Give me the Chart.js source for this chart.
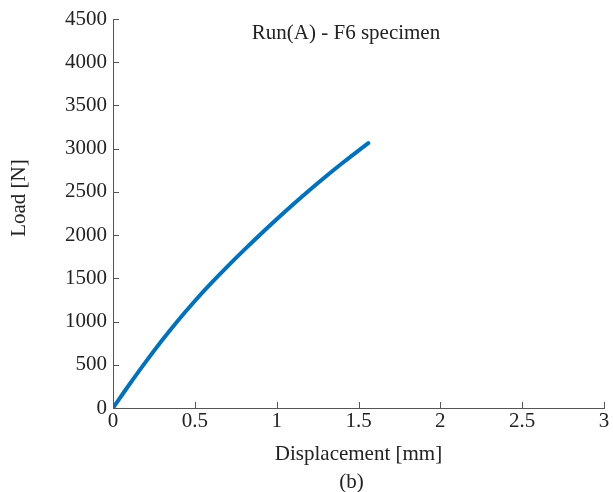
<!DOCTYPE html>
<html>
<head>
<meta charset="utf-8">
<script src="https://cdn.jsdelivr.net/npm/chart.js@4/dist/chart.umd.min.js"></script>
<style>
  html, body { margin: 0; padding: 0; background: #fff; }
  #wrap { width: 613px; height: 492px; }
</style>
</head>
<body>
<div id="wrap"><canvas id="chart"></canvas></div>
<script>
// displacement [mm] vs load [N]
const displacement = [0, 0.1, 0.2, 0.3, 0.4, 0.5, 0.6, 0.7, 0.8, 0.9, 1.0, 1.1, 1.2, 1.3, 1.4, 1.5, 1.56];
const load = [0, 272, 534, 783, 1018, 1238, 1444, 1639, 1826, 2007, 2183, 2354, 2519, 2678, 2831, 2978, 3063];

const xTicks = [0, 0.5, 1, 1.5, 2, 2.5, 3];
const yTicks = [0, 500, 1000, 1500, 2000, 2500, 3000, 3500, 4000, 4500];

const FONT = "'Liberation Serif', 'Times New Roman', serif";
const AXIS = '#555';

// matlab style: ticks point into the plot, plus extra labels
const extras = {
  id: 'extras',
  afterDraw(chart) {
    const { ctx, chartArea, scales } = chart;
    ctx.save();
    ctx.strokeStyle = AXIS;
    ctx.lineWidth = 1;
    ctx.beginPath();
    xTicks.forEach(v => {
      const px = Math.round(scales.x.getPixelForValue(v)) + 0.5;
      ctx.moveTo(px, chartArea.bottom);
      ctx.lineTo(px, chartArea.bottom - 6);
    });
    yTicks.forEach(v => {
      const py = Math.round(scales.y.getPixelForValue(v)) + 0.5;
      ctx.moveTo(chartArea.left, py);
      ctx.lineTo(chartArea.left + 6, py);
    });
    ctx.stroke();

    ctx.fillStyle = '#222';
    ctx.font = '21px ' + FONT;
    ctx.textAlign = 'center';
    ctx.textBaseline = 'alphabetic';
    ctx.fillText('Run(A) - F6 specimen', chartArea.left + 233, chartArea.top + 20);
    ctx.fillText('(b)', 351.5, 488);

    ctx.translate(25, 198);
    ctx.rotate(-Math.PI / 2);
    ctx.fillText('Load [N]', 0, 0);
    ctx.restore();
  }
};

new Chart(document.getElementById('chart'), {
  type: 'line',
  data: {
    datasets: [{
      data: displacement.map((d, i) => ({ x: d, y: load[i] })),
      borderColor: '#0072BD',
      borderWidth: 4,
      pointRadius: 0,
      borderCapStyle: 'round',
      cubicInterpolationMode: 'monotone',
      fill: false
    }]
  },
  options: {
    responsive: true,
    maintainAspectRatio: false,
    animation: false,
    layout: { padding: { top: 19, right: 9, left: 0, bottom: 0 } },
    plugins: { legend: { display: false }, tooltip: { enabled: false } },
    scales: {
      x: {
        type: 'linear',
        min: 0,
        max: 3,
        afterBuildTicks: s => { s.ticks = xTicks.map(v => ({ value: v })); },
        afterFit: s => { s.height = 84; },
        grid: { drawOnChartArea: false, drawTicks: false },
        border: { display: true, color: AXIS, width: 1 },
        ticks: {
          padding: 1,
          color: '#222',
          font: { family: FONT, size: 21 },
          callback: v => String(v)
        },
        title: {
          display: true,
          text: 'Displacement [mm]',
          color: '#222',
          font: { family: FONT, size: 21 },
          padding: { top: 0, bottom: 25 }
        }
      },
      y: {
        type: 'linear',
        min: 0,
        max: 4500,
        afterBuildTicks: s => { s.ticks = yTicks.map(v => ({ value: v })); },
        afterFit: s => { s.width = 113; },
        grid: { drawOnChartArea: false, drawTicks: false },
        border: { display: true, color: AXIS, width: 1 },
        ticks: {
          padding: 6,
          color: '#222',
          font: { family: FONT, size: 21 },
          callback: v => String(v)
        }
      }
    }
  },
  plugins: [extras]
});
</script>
</body>
</html>
